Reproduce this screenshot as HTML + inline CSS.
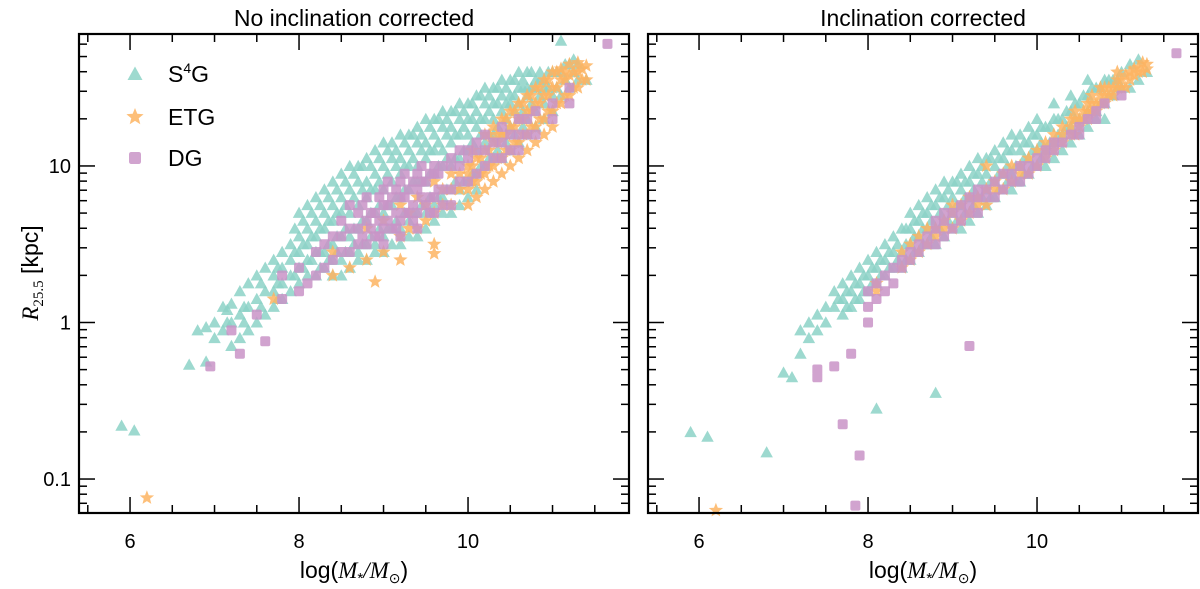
<!DOCTYPE html>
<html><head><meta charset="utf-8"><style>
body{margin:0;background:#fff;width:1200px;height:584px;overflow:hidden}
svg text{font-family:"Liberation Sans",sans-serif;fill:#000}
</style></head><body>
<svg id="chart" width="1200" height="584"></svg>
<script>
// ---- data: [logMass, [logR values]] ----
const s4gLeft=[[5.9,[-0.66]],[6.05,[-0.69]],[6.7,[-0.27]],[6.8,[-0.05]],[6.9,[-0.03,-0.25]],[7.0,[-0.1,0.0]],[7.1,[-0.05,0.1]],[7.2,[0.0,0.12,-0.15]],[7.3,[0.05,0.2,-0.1]],[7.4,[0.1,0.25,-0.05]],[7.5,[0.15,0.3,0.0]],[7.6,[0.2,0.35,0.05]],[7.7,[0.2,0.4,0.1,0.3]],[7.8,[0.25,0.45,0.15,0.35]],[7.9,[0.3,0.5,0.2,0.4]],[8.0,[0.35,0.55,0.25,0.45,0.7]],[8.1,[0.4,0.6,0.3,0.5,0.75]],[8.2,[0.45,0.65,0.3,0.55,0.8]],[8.3,[0.45,0.7,0.35,0.6,0.85]],[8.4,[0.5,0.75,0.4,0.65,0.9,0.3]],[8.5,[0.55,0.8,0.4,0.7,0.95,0.3]],[8.6,[0.55,0.85,0.45,0.7,1.0,0.35]],[8.7,[0.6,0.9,0.45,0.75,1.0,0.4]],[8.8,[0.65,0.9,0.5,0.8,1.05,0.4]],[8.9,[0.7,0.95,0.5,0.85,1.1,0.45]],[9.0,[0.7,1.0,0.55,0.85,1.15,0.45]],[9.1,[0.75,1.05,0.6,0.9,1.15,0.5]],[9.2,[0.8,1.05,0.6,0.95,1.2,0.5]],[9.3,[0.85,1.1,0.65,1.0,1.2,0.55]],[9.4,[0.9,1.15,0.7,1.0,1.25,0.55]],[9.5,[0.9,1.15,0.7,1.05,1.3,0.6]],[9.6,[0.95,1.2,0.75,1.1,1.3,0.65]],[9.7,[1.0,1.25,0.8,1.1,1.35,0.7]],[9.8,[1.0,1.25,0.85,1.15,1.35,0.7]],[9.9,[1.05,1.3,0.85,1.2,1.4,0.75]],[10.0,[1.1,1.3,0.9,1.2,1.4,0.8]],[10.1,[1.1,1.35,0.95,1.25,1.45,0.85]],[10.2,[1.15,1.4,1.0,1.3,1.5]],[10.3,[1.2,1.4,1.05,1.3,1.5]],[10.4,[1.2,1.45,1.05,1.35,1.55]],[10.5,[1.25,1.45,1.1,1.4,1.55]],[10.6,[1.3,1.5,1.15,1.4,1.6]],[10.7,[1.3,1.5,1.2,1.45,1.6]],[10.8,[1.35,1.55,1.25,1.5]],[10.9,[1.4,1.55,1.3,1.5]],[11.0,[1.45,1.6,1.35]],[11.1,[1.45,1.6,1.8]],[11.2,[1.5,1.65]],[11.3,[1.55,1.65]],[11.4,[1.55]]];
const s4gLeftExtra=[[7.15,[0.0,0.08]],[7.35,[0.1,0.0]],[7.55,[0.1,0.25]],[7.75,[0.25,0.35,0.15]],[7.95,[0.3,0.45,0.6]],[8.05,[0.35,0.5,0.65]],[8.15,[0.4,0.55,0.7]],[8.25,[0.45,0.6,0.75,0.35]],[8.35,[0.5,0.65,0.8,0.4]],[8.45,[0.55,0.7,0.85,0.45]],[8.55,[0.6,0.75,0.9,0.45]],[8.65,[0.6,0.8,0.95,0.5]],[8.75,[0.65,0.85,1.0,0.5]],[8.85,[0.7,0.85,1.0,0.55]],[8.95,[0.75,0.9,1.05,0.6]],[9.05,[0.75,0.95,1.1,0.6]],[9.15,[0.8,1.0,1.1,0.65]],[9.25,[0.85,1.0,1.15,0.7]],[9.35,[0.9,1.05,1.2,0.7]],[9.45,[0.9,1.1,1.2,0.75]],[9.55,[0.95,1.1,1.25,0.8]],[9.65,[1.0,1.15,1.3,0.8]],[9.75,[1.05,1.2,1.3,0.85]],[9.85,[1.05,1.2,1.35,0.9]],[9.95,[1.1,1.25,1.35,0.9]],[10.05,[1.15,1.3,1.4,0.95]],[10.15,[1.2,1.3,1.45,1.0]],[10.25,[1.2,1.35,1.45,1.05]],[10.35,[1.25,1.4,1.5,1.1]],[10.45,[1.3,1.4,1.5,1.15]],[10.55,[1.35,1.45,1.55,1.2]],[10.65,[1.35,1.5,1.55,1.25]],[10.75,[1.4,1.5,1.6]],[10.85,[1.45,1.55,1.6]],[10.95,[1.5,1.6]],[11.05,[1.5,1.6]],[11.15,[1.55,1.65]],[11.25,[1.6,1.68]]];
const etgLeft=[[6.2,[-1.12]],[7.7,[0.15]],[8.4,[0.3,0.45]],[8.6,[0.35]],[8.8,[0.4,0.6]],[8.9,[0.26]],[9.0,[0.45,0.65]],[9.2,[0.55,0.75,0.4]],[9.4,[0.6,0.8]],[9.6,[0.7,0.9,0.5,0.44]],[9.8,[0.75,0.95,0.85]],[10.0,[0.85,1.0,0.95,0.75]],[10.1,[0.9,1.05,0.8]],[10.2,[0.95,1.1,1.2,0.85]],[10.3,[1.0,1.15,1.25,0.9]],[10.4,[1.05,1.2,1.3,0.95]],[10.5,[1.1,1.25,1.35,1.0]],[10.6,[1.15,1.3,1.4,1.05]],[10.7,[1.2,1.35,1.45,1.1]],[10.8,[1.25,1.4,1.5,1.15]],[10.9,[1.3,1.45,1.55,1.2]],[11.0,[1.35,1.5,1.6,1.25]],[11.1,[1.4,1.55,1.62]],[11.2,[1.45,1.58,1.65]],[11.3,[1.5,1.6,1.66]],[11.4,[1.55,1.64]]];
const etgLeftExtra=[[9.3,[0.6,0.7]],[9.5,[0.65,0.75]],[9.7,[0.75,0.85]],[9.9,[0.85,0.95]],[10.05,[0.9,1.0,1.1]],[10.15,[0.95,1.05]],[10.25,[1.0,1.1,1.2]],[10.35,[1.05,1.15,1.2]],[10.45,[1.1,1.2,1.3]],[10.55,[1.15,1.25,1.35]],[10.65,[1.2,1.3,1.4]],[10.75,[1.25,1.35,1.45]],[10.85,[1.3,1.4,1.5]],[10.95,[1.35,1.45,1.55]],[11.05,[1.4,1.5,1.6]],[11.15,[1.45,1.55,1.6]],[11.25,[1.5,1.6]],[11.35,[1.55,1.62]]];
const dgLeft=[[6.95,[-0.28]],[7.2,[-0.05]],[7.3,[-0.2]],[7.5,[0.05]],[7.6,[-0.12]],[7.8,[0.15,0.3]],[8.0,[0.2,0.35]],[8.1,[0.25]],[8.2,[0.3,0.45]],[8.4,[0.4,0.55]],[8.6,[0.45,0.6,0.75]],[8.8,[0.5,0.65,0.8]],[8.9,[0.55,0.7]],[9.0,[0.6,0.75,0.85,0.5]],[9.1,[0.6,0.8]],[9.2,[0.65,0.8,0.9,0.55]],[9.3,[0.7,0.85]],[9.4,[0.7,0.85,0.95,0.6]],[9.5,[0.75,0.9]],[9.6,[0.8,0.95,1.0,0.7]],[9.8,[0.85,1.0,1.05,0.75]],[10.0,[0.9,1.05,1.1]],[10.2,[1.0,1.1,1.2]],[10.4,[1.05,1.15,1.25]],[10.6,[1.1,1.2,1.3]],[10.8,[1.2,1.35]],[11.0,[1.3,1.4]],[11.2,[1.4,1.5]],[11.65,[1.78]]];
const dgLeftExtra=[[8.3,[0.35,0.5]],[8.5,[0.45,0.55,0.65]],[8.7,[0.5,0.6,0.7]],[8.75,[0.55,0.75]],[8.85,[0.6,0.7]],[8.95,[0.65,0.8,0.55]],[9.05,[0.65,0.75,0.9]],[9.15,[0.7,0.85,0.6]],[9.25,[0.7,0.8,0.95]],[9.35,[0.75,0.9,0.65]],[9.45,[0.8,0.9,1.0]],[9.55,[0.8,0.95,0.7]],[9.65,[0.85,0.95]],[9.7,[0.85,1.0,0.75]],[9.9,[0.9,1.0,1.1]],[10.1,[0.95,1.1,1.15]],[10.3,[1.05,1.15]],[10.5,[1.1,1.2]],[10.7,[1.2,1.3]]];
const s4gRight=[[5.9,[-0.7]],[6.1,[-0.73]],[6.8,[-0.83]],[7.0,[-0.32]],[7.1,[-0.35]],[7.2,[-0.2,-0.05]],[7.3,[-0.1,0.0]],[7.4,[0.05,-0.05]],[7.5,[0.1,0.0]],[7.6,[0.1,0.2]],[7.7,[0.15,0.25,0.05]],[7.8,[0.2,0.3,0.1]],[7.9,[0.25,0.35,0.15]],[8.0,[0.3,0.4,0.2]],[8.1,[0.35,0.45,0.25,-0.55]],[8.2,[0.4,0.5,0.3]],[8.3,[0.45,0.55,0.35]],[8.4,[0.45,0.6,0.35]],[8.5,[0.5,0.6,0.4,0.7]],[8.6,[0.55,0.65,0.45,0.75]],[8.7,[0.6,0.7,0.5,0.8]],[8.8,[0.6,0.75,0.5,0.85,-0.45]],[8.9,[0.65,0.8,0.55,0.9]],[9.0,[0.7,0.8,0.6,0.9]],[9.1,[0.75,0.85,0.6,0.95]],[9.2,[0.8,0.9,0.65,1.0]],[9.3,[0.8,0.95,0.7,1.05]],[9.4,[0.85,0.95,0.75,1.05]],[9.5,[0.9,1.0,0.8,1.1]],[9.6,[0.95,1.05,0.85,1.15]],[9.7,[0.95,1.1,0.85,1.2]],[9.8,[1.0,1.1,0.9,1.2]],[9.9,[1.05,1.15,0.95,1.25]],[10.0,[1.1,1.2,1.0,1.3]],[10.1,[1.1,1.25,1.0]],[10.2,[1.15,1.3,1.05,1.4]],[10.3,[1.2,1.3,1.1]],[10.4,[1.25,1.35,1.15,1.45]],[10.5,[1.3,1.4,1.2]],[10.6,[1.35,1.45,1.25,1.55]],[10.7,[1.35,1.5,1.3]],[10.8,[1.4,1.55,1.3]],[10.9,[1.45,1.55]],[11.0,[1.5,1.6]],[11.1,[1.5,1.65]],[11.2,[1.55,1.68]],[11.3,[1.6]]];
const s4gRightExtra=[[7.65,[0.15]],[7.75,[0.2,0.1]],[7.85,[0.25,0.15]],[7.95,[0.3,0.2]],[8.05,[0.35,0.25]],[8.15,[0.4,0.3]],[8.25,[0.45,0.35]],[8.35,[0.5,0.4]],[8.45,[0.5,0.6,0.4]],[8.55,[0.55,0.65,0.45]],[8.65,[0.6,0.7,0.5]],[8.75,[0.65,0.75,0.55]],[8.85,[0.7,0.8,0.6]],[8.95,[0.75,0.85,0.65]],[9.05,[0.75,0.9,0.65]],[9.15,[0.8,0.9,0.7]],[9.25,[0.85,0.95,0.75]],[9.35,[0.9,1.0,0.8]],[9.45,[0.9,1.05,0.8]],[9.55,[0.95,1.05,0.85]],[9.65,[1.0,1.1,0.9]],[9.75,[1.0,1.15,0.9]],[9.85,[1.05,1.15,0.95]],[9.95,[1.1,1.2,1.0]],[10.05,[1.15,1.25,1.05]],[10.15,[1.15,1.25]],[10.25,[1.2,1.3]],[10.35,[1.25,1.35]],[10.45,[1.3,1.4]],[10.55,[1.3,1.45]],[10.65,[1.35,1.5]],[10.75,[1.4,1.5]],[10.85,[1.45,1.55]],[10.95,[1.5,1.55]]];
const etgRight=[[6.2,[-1.2]],[8.1,[0.2,0.25]],[8.4,[0.35,0.45]],[8.6,[0.45,0.55]],[8.8,[0.55,0.6]],[9.0,[0.6,0.7,0.75]],[9.2,[0.7,0.8]],[9.4,[0.75,0.85,1.0]],[9.6,[0.85,0.95]],[9.8,[0.95,1.0]],[10.0,[1.0,1.1]],[10.2,[1.1,1.15,1.2]],[10.4,[1.2,1.25,1.3]],[10.5,[1.25,1.3]],[10.6,[1.3,1.35,1.4]],[10.7,[1.35,1.4]],[10.8,[1.4,1.45,1.5]],[10.9,[1.45,1.5]],[11.0,[1.5,1.55]],[11.1,[1.55,1.6]],[11.2,[1.6,1.63]],[11.3,[1.62,1.65]]];
const etgRightExtra=[[8.5,[0.4,0.5]],[8.7,[0.5,0.6]],[8.9,[0.6,0.65]],[9.1,[0.65,0.75]],[9.3,[0.75,0.8]],[9.5,[0.85,0.9]],[9.7,[0.9,1.0]],[9.9,[0.95,1.05]],[10.1,[1.05,1.1,1.15]],[10.3,[1.15,1.2,1.25]],[10.45,[1.2,1.3,1.35]],[10.55,[1.3,1.35]],[10.65,[1.35,1.4,1.45]],[10.75,[1.4,1.45,1.5]],[10.85,[1.45,1.5]],[10.95,[1.5,1.55,1.6]],[11.05,[1.5,1.58]],[11.15,[1.58,1.62]],[11.25,[1.6,1.66]]];
const dgRight=[[7.4,[-0.3,-0.35]],[7.6,[-0.28]],[7.7,[-0.65]],[7.8,[-0.2]],[7.85,[-1.17]],[7.9,[-0.85]],[8.0,[0.0,0.1,0.2]],[8.2,[0.2,0.3]],[8.4,[0.35,0.4]],[8.6,[0.45,0.5]],[8.8,[0.5,0.6,0.65]],[9.0,[0.6,0.7]],[9.2,[0.7,0.75,0.8,-0.15]],[9.4,[0.8,0.85]],[9.6,[0.85,0.95]],[9.8,[0.9,1.0]],[10.0,[1.0,1.05]],[10.2,[1.1,1.15]],[10.4,[1.2]],[10.6,[1.3]],[10.8,[1.4]],[11.0,[1.45]],[11.65,[1.72]]];
const dgRightExtra=[[8.1,[0.15,0.25]],[8.3,[0.25,0.35]],[8.5,[0.4,0.45]],[8.7,[0.5,0.55]],[8.9,[0.55,0.65,0.7]],[9.1,[0.65,0.75,0.7]],[9.3,[0.7,0.8,0.85]],[9.5,[0.8,0.9]],[9.7,[0.9,0.95]],[9.9,[0.95,1.0]],[10.1,[1.05,1.1]],[10.3,[1.15]],[10.5,[1.2,1.25]],[10.7,[1.3,1.35]]];
const xTicks=[6,8,10];
const yTickLabels=["0.1","1","10"];
const yTickValues=[-1,0,1];

const NS="http://www.w3.org/2000/svg";
const svg=document.getElementById('chart');
function mk(tag,attrs,parent){const e=document.createElementNS(NS,tag);for(const k in attrs)e.setAttribute(k,attrs[k]);(parent||svg).appendChild(e);return e;}
const TOP=34,BOT=513,W=550;
const XMIN=5.396,XMAX=11.905,YMIN=-1.217,YMAX=1.843;
function xs(v,x0){return x0+(v-XMIN)/(XMAX-XMIN)*W;}
function ys(v){return BOT-(v-YMIN)/(YMAX-YMIN)*(BOT-TOP);}
const COL={s4g:'#8dd3c7',etg:'#fdb462',dg:'#c994c7'};
function marker(kind,cx,cy,g,s){
  s=s||1;let e;
  if(kind==='s4g'){e=mk('polygon',{points:`${cx},${cy-5*s} ${cx+5*s},${cy+4*s} ${cx-5*s},${cy+4*s}`,fill:COL.s4g},g);}
  else if(kind==='etg'){let p=[];for(let i=0;i<10;i++){const r=i%2?2.6*s:6*s;const a=-Math.PI/2+i*Math.PI/5;p.push((cx+r*Math.cos(a)).toFixed(1)+','+(cy+r*Math.sin(a)).toFixed(1));}e=mk('polygon',{points:p.join(' '),fill:COL.etg},g);}
  else {e=mk('rect',{x:cx-4*s,y:cy-4*s,width:8*s,height:8*s,rx:1.5*s,fill:COL.dg},g);}
  return e;
}
function panel(x0,title,name,sets,showY){
  const g=mk('g',{});
  
  
  sets.forEach(([kind,data])=>{
    const sg=mk('g',{opacity:0.85},g);
    
    
    data.forEach(([m,vals])=>vals.forEach(v=>{
      const el=marker(kind,xs(m,x0),ys(v),sg,1.25);
      
      
    }));
  });
  const ax=mk('g',{stroke:'#000','stroke-width':1.5,fill:'none'},g);
  
  
  for(let v=5.5;v<=XMAX;v+=0.5){const x=xs(v,x0);const major=Math.abs(v-Math.round(v))<1e-6&&Math.round(v)%2===0;const L=major?16:8;
    mk('line',{x1:x,x2:x,y1:BOT,y2:BOT-L},ax);mk('line',{x1:x,x2:x,y1:TOP,y2:TOP+L},ax);}
  for(let d=-2;d<=1;d++){for(let k=1;k<10;k++){const v=d+Math.log10(k);if(v<YMIN||v>YMAX)continue;const y=ys(v);const L=k===1?16:8;
    mk('line',{x1:x0,x2:x0+L,y1:y,y2:y},ax);mk('line',{x1:x0+W,x2:x0+W-L,y1:y,y2:y},ax);}}
  mk('rect',{x:x0,y:TOP,width:W,height:BOT-TOP,'stroke-width':2.2},ax);
  xTicks.forEach(t=>{const e=mk('text',{x:xs(t,x0),y:548,'text-anchor':'middle','font-size':20,'font-family':'Liberation Serif'},g);e.textContent=t;
    });
  if(showY)yTickValues.forEach((t,i)=>{const e=mk('text',{x:x0-8,y:ys(t)+7,'text-anchor':'end','font-size':20,'font-family':'Liberation Serif'},g);e.textContent=yTickLabels[i];
    });
  const tt=mk('text',{x:x0+W/2,y:26,'text-anchor':'middle','font-size':23},g);tt.textContent=title;
  
  const xl=mk('text',{x:x0+W/2,y:578,'text-anchor':'middle','font-size':23},g);
  xl.innerHTML='log(<tspan font-family="Liberation Serif" font-style="italic">M</tspan><tspan font-size="15" dy="5">*</tspan><tspan dy="-5" font-family="Liberation Serif" font-style="italic">/M</tspan><tspan font-size="14" dy="5">⊙</tspan><tspan dy="-5">)</tspan>';
  
}
panel(79,'No inclination corrected','left-panel',[['s4g',s4gLeft],['s4g',s4gLeftExtra],['etg',etgLeft],['etg',etgLeftExtra],['dg',dgLeft],['dg',dgLeftExtra]],true);
panel(648,'Inclination corrected','right-panel',[['s4g',s4gRight],['s4g',s4gRightExtra],['etg',etgRight],['etg',etgRightExtra],['dg',dgRight],['dg',dgRightExtra]],false);
// legend
const lg=mk('g',{});


[['s4g','S<tspan font-size="14" dy="-9">4</tspan><tspan dy="9">G</tspan>',74],['etg','ETG',117],['dg','DG',158]].forEach(([k,lab,y])=>{
  const m=marker(k,135,y,lg,1.5);m.setAttribute('opacity',0.85);
  const t=mk('text',{x:168,y:y+8,'font-size':23},lg);t.innerHTML=lab;
  
});
// y label
const yl=mk('text',{transform:'translate(38,273) rotate(-90)','text-anchor':'middle','font-size':23});
yl.innerHTML='<tspan font-family="Liberation Serif" font-style="italic">R</tspan><tspan font-size="15" dy="5" font-family="Liberation Serif">25.5</tspan><tspan dy="-5"> [kpc]</tspan>';


</script>
</body></html>
